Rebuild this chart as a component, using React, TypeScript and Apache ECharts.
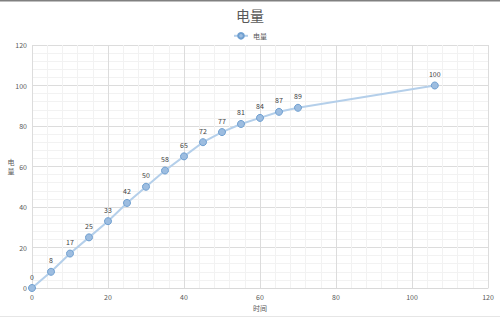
import React, { useEffect, useRef } from "react";
import * as echarts from "echarts";

const timeValues: number[] = [0, 5, 10, 15, 20, 25, 30, 35, 40, 45, 50, 55, 60, 65, 70, 106];
const powerValues: number[] = [0, 8, 17, 25, 33, 42, 50, 58, 65, 72, 77, 81, 84, 87, 89, 100];
const seriesName = "电量";
const titleText = "电量";
const xName = "时间";
const yNameChars: string[] = ["电", "量"];

export default function App() {
  const ref = useRef<HTMLDivElement>(null);
  useEffect(() => {
    if (!ref.current) return;
    const chart = echarts.init(ref.current, undefined, { renderer: "svg" });
    const data = timeValues.map((t, i) => [t, powerValues[i]]);
    const axisText = { fontSize: 7, color: "#595959", fontFamily: "Noto Sans CJK SC" };
    chart.setOption({
      animation: false,
      backgroundColor: "#ffffff",
      textStyle: { fontFamily: "Noto Sans CJK SC" },
      title: {
        text: titleText,
        left: "center",
        top: 3,
        textStyle: { fontSize: 14, fontWeight: "normal", color: "#595959" },
      },
      legend: {
        top: 27,
        left: "center",
        itemWidth: 14,
        itemHeight: 7,
        itemGap: 4,
        textStyle: { fontSize: 7, color: "#595959" },
        data: [seriesName],
      },
      grid: { left: 32, right: 12, top: 45, bottom: 30 },
      xAxis: {
        type: "value",
        min: 0,
        max: 120,
        interval: 20,
        name: xName,
        nameLocation: "middle",
        nameGap: 15,
        nameTextStyle: axisText,
        axisLine: { show: true, lineStyle: { color: "#d9d9d9" } },
        axisTick: { show: false },
        axisLabel: { ...axisText, margin: 5 },
        splitLine: { show: true, lineStyle: { color: "#dcdcdc", width: 1 } },
        minorTick: { show: false, splitNumber: 5 },
        minorSplitLine: { show: true, lineStyle: { color: "#f2f2f2", width: 1 } },
      },
      yAxis: {
        type: "value",
        min: 0,
        max: 120,
        interval: 20,
        axisLine: { show: false },
        axisTick: { show: false },
        axisLabel: { ...axisText, margin: 5 },
        splitLine: { show: true, lineStyle: { color: "#dcdcdc", width: 1 } },
        minorTick: { show: false, splitNumber: 5 },
        minorSplitLine: { show: true, lineStyle: { color: "#f2f2f2", width: 1 } },
      },
      graphic: [
        { type: "line", shape: { x1: 0, y1: 0.5, x2: 500, y2: 0.5 }, style: { stroke: "#808080", lineWidth: 2 } },
        { type: "line", shape: { x1: 0, y1: 316.5, x2: 500, y2: 316.5 }, style: { stroke: "#e6e6e6", lineWidth: 1 } },
        ...yNameChars.map((ch, i) => ({
          type: "text",
          x: 11,
          y: 162 + i * 9,
          style: {
            text: ch,
            fontSize: 7,
            fill: "#595959",
            fontFamily: "Noto Sans CJK SC",
            align: "center",
            verticalAlign: "middle",
          },
        })),
      ],
      series: [
        {
          name: seriesName,
          type: "line",
          data,
          symbol: "circle",
          symbolSize: 7,
          lineStyle: { color: "#b4cfea", width: 2 },
          itemStyle: { color: "#9dbde0", borderColor: "#6f9fd0", borderWidth: 1 },
          label: {
            show: true,
            position: "top",
            distance: 4,
            fontSize: 7,
            color: "#404040",
            formatter: (p: any) => String(p.value[1]),
          },
        },
      ],
    });
    return () => chart.dispose();
  }, []);
  return <div ref={ref} style={{ width: 500, height: 318, position: "absolute", left: 0, top: 0 }} />;
}
